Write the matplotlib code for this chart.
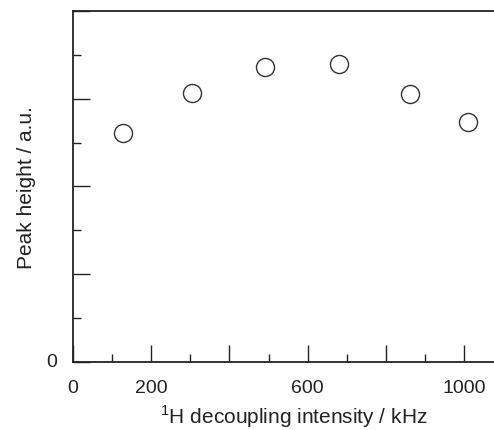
import matplotlib
matplotlib.use("Agg")
import matplotlib.pyplot as plt
from matplotlib.ticker import MultipleLocator

plt.rcParams['font.family'] = ['Liberation Sans', 'DejaVu Sans']
plt.rcParams['mathtext.fontset'] = 'custom'
plt.rcParams['mathtext.rm'] = 'Liberation Sans'

# data
decoupling_khz = [128, 303, 490, 680, 862, 1010]
peak_height = [2.61, 3.07, 3.36, 3.40, 3.05, 2.73]

x_tick_labels = ["0", "200", "600", "1000"]
x_tick_values = [0, 200, 600, 1000]

fig = plt.figure(figsize=(4.94, 4.31), dpi=100)
ax = fig.add_axes([0.148, 0.158, 0.852, 0.814])

ax.plot(decoupling_khz, peak_height, linestyle='none', marker='o',
        markersize=13, markerfacecolor='white', markeredgecolor='#333333',
        markeredgewidth=1.0, clip_on=False)

ax.set_xlim(0, 1077)
ax.set_ylim(0, 4)

# x ticks: majors every 200, minors every 100, only some labelled
ax.xaxis.set_major_locator(MultipleLocator(200))
ax.xaxis.set_minor_locator(MultipleLocator(100))
ax.xaxis.set_major_formatter(plt.NullFormatter())
ax.yaxis.set_major_locator(MultipleLocator(1))
ax.yaxis.set_minor_locator(MultipleLocator(0.5))
ax.yaxis.set_major_formatter(plt.NullFormatter())

ax.tick_params(which='major', direction='in', length=12.5, width=1.0, color='#222222')
ax.tick_params(which='minor', direction='in', length=6, width=1.0, color='#222222')
ax.tick_params(pad=12)

# labels drawn as separate text so they can skip 400 and 800
for v, s in zip(x_tick_values, x_tick_labels):
    ax.annotate(s, xy=(v, 0), xycoords='data', xytext=(0, -17),
                textcoords='offset pixels', ha='center', va='top',
                fontsize=14, color='#222222')
ax.annotate("0", xy=(0, 0), xycoords='data', xytext=(-16, 0),
            textcoords='offset pixels', ha='right', va='center',
            fontsize=14, color='#222222')

ax.spines['right'].set_visible(False)
for side in ['left', 'top', 'bottom']:
    ax.spines[side].set_linewidth(1.3)
    ax.spines[side].set_color('#222222')

ax.set_xlabel(r"$^{1}$H decoupling intensity / kHz", fontsize=15,
              color='#222222')
ax.xaxis.set_label_coords(0.525, -0.115)
ax.set_ylabel("Peak height / a.u.", fontsize=15, color='#222222', labelpad=15)

fig.savefig("out.png", dpi=100)
